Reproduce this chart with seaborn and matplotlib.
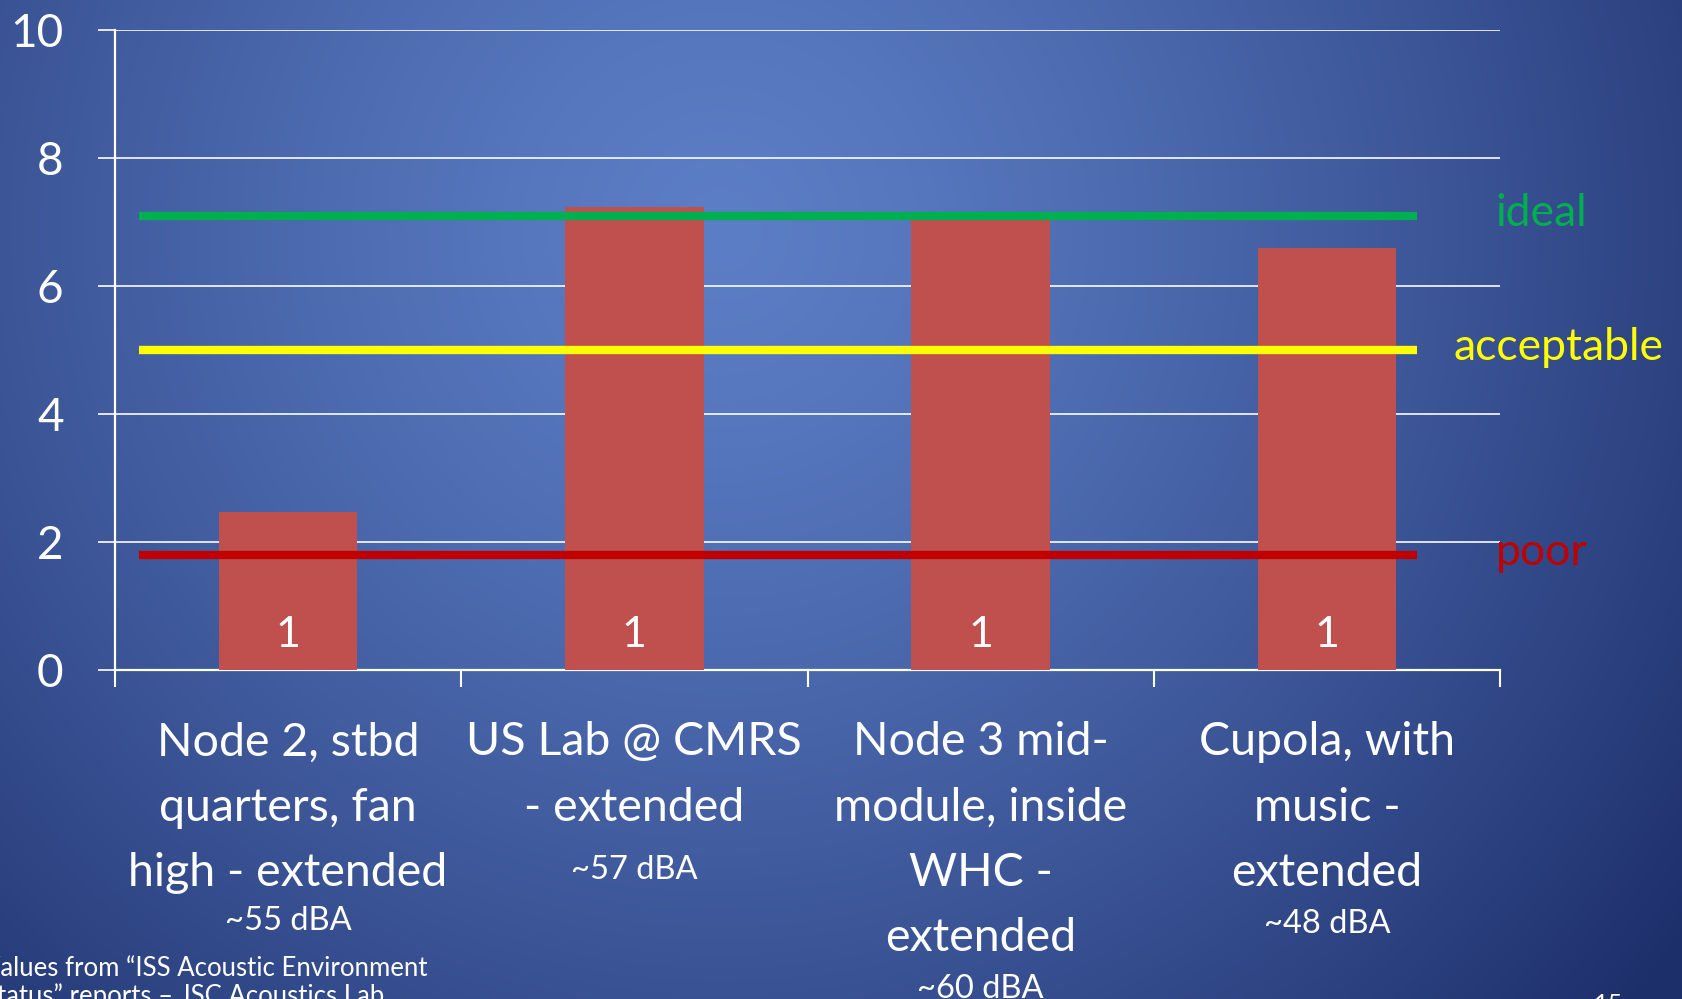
import numpy as np
import pandas as pd
import matplotlib
matplotlib.use('Agg')
import matplotlib.pyplot as plt
import seaborn as sns

# Data
locations = ['Node 2, stbd\nquarters, fan\nhigh - extended',
             'US Lab @ CMRS\n- extended',
             'Node 3 mid-\nmodule, inside\nWHC -\nextended',
             'Cupola, with\nmusic -\nextended']
scores = [2.47, 7.23, 7.1, 6.6]
bar_labels = ['1', '1', '1', '1']
noise_levels = ['~55 dBA', '~57 dBA', '~60 dBA', '~48 dBA']
level_names = ['ideal', 'acceptable', 'poor']
level_values = [7.1, 5.0, 1.8]
level_colors = ['#00B050', '#FFFF00', '#C00000']
y_ticks = [0, 2, 4, 6, 8, 10]
footnote = ['Values from \u201cISS Acoustic Environment',
            'Status\u201d reports \u2013 JSC Acoustics Lab']

sns.set_style('ticks')
plt.rcParams['font.family'] = ['Lato', 'DejaVu Sans']

W, H = 1682, 999
fig = plt.figure(figsize=(W / 100, H / 100), dpi=100)

# slide background: blue radial gradient
bg = fig.add_axes([0, 0, 1, 1], zorder=-10)
yy, xx = np.mgrid[0:H, 0:W]
r = np.sqrt(((xx - 720) / 950.0) ** 2 + ((yy - 230) / 950.0) ** 2)
t = np.clip(r / 1.25, 0, 1) ** 1.3
inner = np.array([92, 126, 198]) / 255.0
outer = np.array([30, 48, 108]) / 255.0
img = inner[None, None, :] * (1 - t[..., None]) + outer[None, None, :] * t[..., None]
bg.imshow(img, aspect='auto', extent=[0, 1, 0, 1], origin='upper')
bg.axis('off')

ax = fig.add_axes([115 / W, 1 - 670 / H, 1385 / W, 640 / H])
ax.set_facecolor('none')

df = pd.DataFrame({'location': locations, 'score': scores})
sns.barplot(data=df, x='location', y='score', color='#C0504D', saturation=1,
            width=0.4, linewidth=0, ax=ax, zorder=3)

ax.set_xlim(-0.5, 3.5)
ax.set_ylim(0, 10)
ax.set_yticks(y_ticks)
ax.set_xlabel('')
ax.set_ylabel('')
ax.set_axisbelow(True)
ax.yaxis.grid(True, color='white', lw=1.3, alpha=0.9)
ax.xaxis.grid(False)

sns.despine(ax=ax)
for side in ['left', 'bottom']:
    ax.spines[side].set_color('white')
    ax.spines[side].set_linewidth(1.6)

ax.tick_params(axis='y', length=12, width=1.2, color='white', pad=25,
               labelsize=33, labelcolor='white')
ax.tick_params(axis='x', which='major', length=0, pad=37,
               labelsize=33.5, labelcolor='white')
ax.set_xticks([-0.5, 0.5, 1.5, 2.5, 3.5], minor=True)
ax.tick_params(axis='x', which='minor', length=12, width=1.5, color='white')
for lab in ax.get_xticklabels():
    lab.set_linespacing(1.68)

# count labels at the foot of each bar
for i, lab in enumerate(bar_labels):
    ax.annotate(lab, xy=(i, 0), xytext=(0, 16.5), textcoords='offset points',
                ha='center', va='baseline', fontsize=31, color='white', zorder=5)

# noise level under each category
gaps = [9, 19, 11, 11]
ticklabs = ax.get_xticklabels()
for i, note in enumerate(noise_levels):
    ax.annotate(note, xy=(0.5, 0), xycoords=ticklabs[i], xytext=(0, -gaps[i]),
                textcoords='offset points', ha='center', va='top',
                fontsize=23.5, color='white', annotation_clip=False)

# rating levels
label_x = [3.62, 3.67, 3.62]
for name, val, col, lx in zip(level_names, level_values, level_colors, label_x):
    ax.hlines(val, -0.43, 3.26, color=col, lw=6, zorder=4)
    ax.annotate(name, xy=(lx, val), xytext=(0, -7.5), textcoords='offset points',
                ha='center', va='baseline', fontsize=32, color=col,
                annotation_clip=False)

fig.text(-17 / W, 1 - 976 / H, footnote[0], ha='left', va='baseline',
         fontsize=18.5, color='white')
fig.text(-17 / W, 1 - 1004 / H, footnote[1], ha='left', va='baseline',
         fontsize=18.5, color='white')
fig.text(1609 / W, 1 - 1012 / H, '15', ha='center', va='baseline',
         fontsize=18, color='white')

plt.savefig('out.png', dpi=100)
